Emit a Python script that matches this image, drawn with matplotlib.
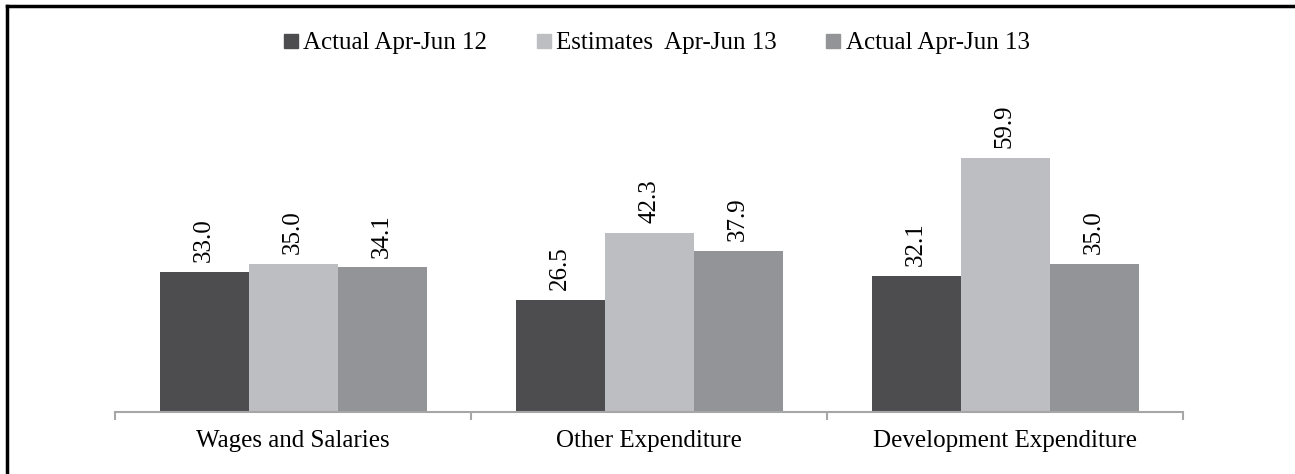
import matplotlib
matplotlib.use("Agg")
import matplotlib.pyplot as plt
from matplotlib.lines import Line2D
import numpy as np

categories = ["Wages and Salaries", "Other Expenditure", "Development Expenditure"]
series_names = ["Actual Apr-Jun 12", "Estimates  Apr-Jun 13", "Actual Apr-Jun 13"]
actual_12 = [33.0, 26.5, 32.1]
estimates_13 = [35.0, 42.3, 59.9]
actual_13 = [34.1, 37.9, 35.0]
colors = ["#4d4d4f", "#bdbec2", "#939497"]

plt.rcParams['font.family'] = ['Liberation Serif', 'DejaVu Serif']
FS = 18

W, H = 1295, 474
fig = plt.figure(figsize=(W / 100, H / 100), dpi=100)
left, right, base = 115, 1183, 412
ax = fig.add_axes([left / W, (H - base) / H, (right - left) / W, 297 / H])

x = np.arange(len(categories))
bw = 0.25
for i, (vals, c, name) in enumerate(zip([actual_12, estimates_13, actual_13], colors, series_names)):
    pos = x + (i - 1) * bw
    ax.bar(pos, vals, width=bw, color=c, label=name, zorder=2)
    for p, v in zip(pos, vals):
        ax.annotate(f"{v:.1f}", (p, v), xytext=(0, 7), textcoords="offset points",
                    rotation=90, ha="center", va="bottom", fontsize=FS)

ax.set_xlim(-0.5, len(categories) - 0.5)
ax.set_ylim(0, 70)
for s in ["top", "right", "left"]:
    ax.spines[s].set_visible(False)
ax.spines["bottom"].set_color("#a6a6a6")
ax.spines["bottom"].set_linewidth(1.5)
ax.set_yticks([])
ax.set_xticks(x)
ax.set_xticklabels(categories, fontsize=FS)
ax.tick_params(axis="x", which="major", length=0, pad=13)
ax.set_xticks(np.arange(len(categories) + 1) - 0.5, minor=True)
ax.tick_params(axis="x", which="minor", length=6, width=1.5, color="#a6a6a6")

handles = [Line2D([], [], marker="s", linestyle="none", markersize=10,
                  markerfacecolor=c, markeredgecolor=c) for c in colors]
fig.legend(handles, series_names, loc="center", bbox_to_anchor=(0.5 + 9 / W, 1 - 43 / H),
           ncol=3, frameon=False, fontsize=FS, handlelength=0.6, handletextpad=0.2,
           columnspacing=1.95)

# figure border (top and left visible)
fig.add_artist(Line2D([7 / W, 7 / W], [0, 1 - 6 / H], transform=fig.transFigure,
                      color="black", linewidth=2.5, solid_capstyle="projecting"))
fig.add_artist(Line2D([7 / W, 1], [1 - 6 / H, 1 - 6 / H], transform=fig.transFigure,
                      color="black", linewidth=2.5, solid_capstyle="projecting"))

fig.savefig("out.png", dpi=100)
